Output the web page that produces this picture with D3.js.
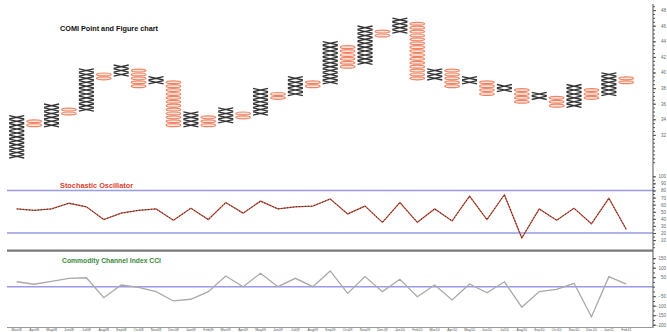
<!DOCTYPE html>
<html>
<head>
<meta charset="utf-8">
<script src="https://cdn.jsdelivr.net/npm/d3@7/dist/d3.min.js"></script>
<style>
  html, body { margin: 0; padding: 0; background: #fff; overflow: hidden; }
  svg { display: block; font-family: "Liberation Sans", Arial, sans-serif; }
</style>
</head>
<body>
<svg id="chart" width="667" height="332"></svg>
<script>
// Point & Figure columns (box size 0.5): type, lowest box edge, highest box edge
const columnTypes = ["X","O","X","O","X","O","X","O","X","O","X","O","X","O","X","O","X","O",
                     "X","O","X","O","X","O","X","O","X","O","X","O","X","O","X","O","X","O"];
const columnLow  = [29, 33, 33, 34.5, 35, 39, 39.5, 38, 38.5, 33, 33, 33, 33.5, 34, 34.5, 36.5, 37, 38,
                    38.5, 40.5, 41, 44.5, 45, 39, 39, 38, 38.5, 37, 37.5, 36, 36.5, 35.5, 35.5, 36.5, 37, 38.5];
const columnHigh = [34.5, 34, 36, 35.5, 40.5, 40, 41, 40.5, 39.5, 39, 35, 34.5, 35.5, 35, 38, 37.5, 39.5, 39,
                    44, 43.5, 46, 45.5, 47, 46.5, 40.5, 40.5, 39.5, 39, 38.5, 38, 37.5, 37, 38.5, 38, 40, 39.5];
const boxSize = 0.5;

// Indicator values, one per column
const stochastic = [54, 52, 54, 62, 57, 39, 48, 52, 54, 38, 55, 39, 63, 48, 65, 54, 57, 58,
                    68, 47, 58, 35, 63, 35, 54, 37, 72, 39, 74, 13, 54, 38, 55, 33, 69, 25];
const cci = [26, 13, 28, 44, 47, -58, 9, -3, -26, -75, -66, -26, 56, 0, 71, 0, 44, 0,
             83, -35, 53, -26, 39, -53, 9, -70, 14, -32, 26, -108, -26, -14, 18, -158, 53, 14];

// Column dates and axis ticks
const columnDates = ["Mar08","Apr08","May08","Jun08","Jul08","Aug08","Sep08","Oct08","Nov08",
                     "Dec08","Jan09","Feb09","Mar09","Apr09","May09","Jun09","Jul09","Aug09",
                     "Sep09","Oct09","Nov09","Dec09","Jan10","Feb10","Mar10","Apr10","May10",
                     "Jun10","Jul10","Aug10","Sep10","Oct10","Nov10","Dec10","Jan11","Feb11"];
const priceTicks = [32, 34, 36, 38, 40, 42, 44, 46, 48];
const stochTicks = [10, 20, 30, 40, 50, 60, 70, 80, 90, 100];
const stochLevels = [20, 80];
const cciTicks = [-200, -150, -100, -50, 50, 100, 150];
const cciLevels = [0];

const svg = d3.select("#chart");
const axisX = 653;

const x = d3.scaleBand().domain(d3.range(columnTypes.length)).range([8, 635]).padding(0);
const yPrice = d3.scaleLinear().domain([29, 48]).range([158.3, 10.1]);
const yStoch = d3.scaleLinear().domain([0, 100]).range([247.2, 176.3]);
const yCci = d3.scaleLinear().domain([-200, 150]).range([324.7, 258.2]);

// ---------- Point & Figure boxes ----------
const boxes = [];
columnTypes.forEach((t, i) => {
  const n = Math.round((columnHigh[i] - columnLow[i]) / boxSize);
  for (let k = 0; k < n; k++) {
    boxes.push({ col: i, type: t, lo: columnLow[i] + k * boxSize, hi: columnLow[i] + (k + 1) * boxSize });
  }
});

const pf = svg.append("g");
const bw = x.bandwidth();
pf.selectAll("path.xbox").data(boxes.filter(b => b.type === "X")).join("path")
  .attr("class", "xbox")
  .attr("d", b => {
    const x0 = x(b.col) + 1.2, x1 = x(b.col) + bw - 1.2;
    const yt = yPrice(b.hi) + 0.3, yb = yPrice(b.lo) - 0.3;
    return `M${x0},${yt}L${x1},${yb}M${x0},${yb}L${x1},${yt}`;
  })
  .attr("stroke", "#333").attr("stroke-width", 1.3).attr("fill", "none");

pf.selectAll("ellipse.obox").data(boxes.filter(b => b.type === "O")).join("ellipse")
  .attr("class", "obox")
  .attr("cx", b => x(b.col) + bw / 2)
  .attr("cy", b => (yPrice(b.hi) + yPrice(b.lo)) / 2)
  .attr("rx", bw / 2 - 1.4)
  .attr("ry", b => (yPrice(b.lo) - yPrice(b.hi)) / 2 - 0.5)
  .attr("stroke", "#f08566").attr("stroke-width", 1.2).attr("fill", "#fde7df");

svg.append("text").attr("x", 60).attr("y", 31)
  .attr("font-size", 7).attr("font-weight", "bold").attr("fill", "#111")
  .attr("textLength", 98).attr("lengthAdjust", "spacingAndGlyphs")
  .text("COMI Point and Figure chart");

// ---------- Stochastic oscillator ----------
svg.selectAll("line.stochLevel").data(stochLevels).join("line")
  .attr("class", "stochLevel")
  .attr("x1", 7).attr("x2", axisX).attr("y1", d => yStoch(d)).attr("y2", d => yStoch(d))
  .attr("stroke", "#9a9ae6").attr("stroke-width", 1.6);

const stochLine = d3.line().x((d, i) => x(i) + bw / 2).y(d => yStoch(d));
svg.append("path").attr("d", stochLine(stochastic))
  .attr("fill", "none").attr("stroke", "#d9604a").attr("stroke-width", 1.3);
svg.append("path").attr("d", stochLine(stochastic))
  .attr("fill", "none").attr("stroke", "#3a2a26").attr("stroke-width", 1)
  .attr("stroke-dasharray", "1.5,1.5");

svg.append("text").attr("x", 60).attr("y", 187.5)
  .attr("font-size", 7).attr("font-weight", "bold").attr("fill", "#e0412e")
  .attr("textLength", 73).attr("lengthAdjust", "spacingAndGlyphs")
  .text("Stochastic Oscillator");

// Panel separator
svg.append("line").attr("x1", 7).attr("x2", axisX).attr("y1", 250.7).attr("y2", 250.7)
  .attr("stroke", "#7a7a7a").attr("stroke-width", 2.2);

// ---------- CCI ----------
svg.selectAll("line.cciLevel").data(cciLevels).join("line")
  .attr("class", "cciLevel")
  .attr("x1", 7).attr("x2", axisX).attr("y1", d => yCci(d)).attr("y2", d => yCci(d))
  .attr("stroke", "#9a9ae6").attr("stroke-width", 1.6);

const cciLine = d3.line().x((d, i) => x(i) + bw / 2).y(d => yCci(d));
svg.append("path").attr("d", cciLine(cci))
  .attr("fill", "none").attr("stroke", "#a9a9a9").attr("stroke-width", 1.3);

svg.append("text").attr("x", 62).attr("y", 262.5)
  .attr("font-size", 7).attr("font-weight", "bold").attr("fill", "#3d8a3d")
  .attr("textLength", 99).attr("lengthAdjust", "spacingAndGlyphs")
  .text("Commodity Channel Index CCI");

// ---------- Right-hand value axes ----------
svg.append("line").attr("x1", axisX).attr("x2", axisX).attr("y1", 4).attr("y2", 328)
  .attr("stroke", "#555").attr("stroke-width", 1);

const priceAxis = d3.axisRight(yPrice).tickValues(priceTicks).tickSize(3)
  .tickFormat(d3.format("d"));
const priceMinor = d3.axisRight(yPrice).tickValues(d3.range(28.5, 49, 0.5)).tickSize(2).tickFormat("");
const stochAxis = d3.axisRight(yStoch).tickValues(stochTicks).tickSize(3);
const stochMinor = d3.axisRight(yStoch).tickValues(d3.range(0, 101, 5)).tickSize(2).tickFormat("");
const cciAxis = d3.axisRight(yCci).tickValues(cciTicks).tickSize(3);
const cciMinor = d3.axisRight(yCci).tickValues(d3.range(-200, 151, 25)).tickSize(2).tickFormat("");

[priceMinor, priceAxis, stochMinor, stochAxis, cciMinor, cciAxis].forEach(ax => {
  const g = svg.append("g").attr("transform", `translate(${axisX},0)`).call(ax);
  g.select(".domain").remove();
  g.selectAll("line").attr("stroke", "#555");
  // labels right-aligned against the edge of the figure
  g.selectAll("text").attr("font-size", 4.5).attr("fill", "#666")
    .attr("text-anchor", "end").attr("x", 13);
});

// ---------- Bottom date axis ----------
svg.append("line").attr("x1", 7).attr("x2", axisX).attr("y1", 327.5).attr("y2", 327.5)
  .attr("stroke", "#9a9a9a").attr("stroke-width", 1);
const dateAxis = d3.axisBottom(x).tickSize(0).tickPadding(0).tickFormat(i => columnDates[i]);
const dg = svg.append("g").attr("transform", "translate(0,328)").call(dateAxis);
dg.select(".domain").remove();
dg.selectAll("text").attr("font-size", 3.6).attr("fill", "#555").attr("dy", "0.8em");
</script>
</body>
</html>
